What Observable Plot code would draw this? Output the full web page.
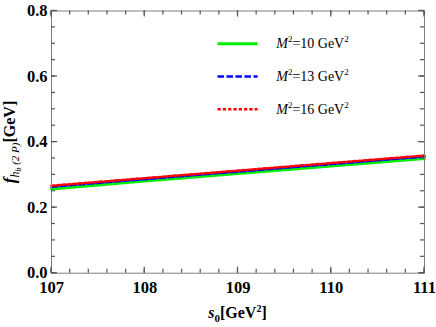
<!DOCTYPE html>
<html><head><meta charset="utf-8">
<script src="https://cdn.jsdelivr.net/npm/d3@7"></script>
<script src="https://cdn.jsdelivr.net/npm/@observablehq/plot@0.6"></script>
<style>body{margin:0;background:#fff}#chart{width:436px;height:327px}</style>
</head><body><div id="chart"></div>
<script>
// data
const s0 = [107, 108, 109, 110, 111];
const fM10 = [0.257, 0.281, 0.304, 0.327, 0.350];
const fM13 = [0.264, 0.287, 0.310, 0.333, 0.356];
const fM16 = [0.267, 0.290, 0.313, 0.336, 0.359];
const seriesNames = ["10", "13", "16"];
const xTicks = [107, 108, 109, 110, 111];
const yTicks = [0, 0.2, 0.4, 0.6, 0.8];
const xMinor = d3.range(107, 111.0001, 0.2);
const yMinor = d3.range(0, 0.80001, 0.05);
// legend placement (data coords)
const legendY = [0.7, 0.6, 0.5];
const legendX1 = 108.78, legendX2 = 109.21, legendTextX = 109.41;

const W = 436, H = 327, ML = 51, MR = 12, MT = 10.5, MB = 54.3;
const X0 = 107, X1 = 111, Y0 = 0, Y1 = 0.8;
const FONT = "'Liberation Serif', 'Times New Roman', serif";

const colors = ["#00ee00", "#0000ff", "#ff0000"];
const dashes = [null, "6.5,2.5", "3.3,2"];
const widths = [3, 2.5, 2.5];
const values = [fM10, fM13, fM16];

const lineMarks = values.map((v, i) =>
  Plot.line(s0.map((x, j) => ({x, y: v[j]})), {x: "x", y: "y", stroke: colors[i], strokeWidth: widths[i], strokeDasharray: dashes[i]})
);
const legendMarks = seriesNames.map((n, i) =>
  Plot.link([{y: legendY[i]}], {x1: legendX1, x2: legendX2, y1: "y", y2: "y", stroke: colors[i], strokeWidth: widths[i], strokeDasharray: dashes[i]})
);
const legendText = Plot.text(seriesNames.map((n, i) => ({n, y: legendY[i]})),
  {x: legendTextX, y: "y", text: "n", textAnchor: "start", fontSize: 14, fontWeight: "normal", fontFamily: FONT, fill: "#000", className: "lgtext"});

const frameStroke = "#808080";
const tickStroke = "#555";

const plot = Plot.plot({
  width: W, height: H,
  marginLeft: ML, marginRight: MR, marginTop: MT, marginBottom: MB,
  style: {fontFamily: FONT, fontSize: "16px", fontWeight: "bold", color: "#000", background: "#fff"},
  x: {domain: [X0, X1]},
  y: {domain: [Y0, Y1]},
  marks: [
    Plot.axisX(xTicks, {anchor: "bottom", tickSize: 0, tickPadding: 8, tickFormat: d => String(d), label: null, fontSize: 16.5, fontWeight: "bold", fontFamily: FONT, fill: "#000"}),
    Plot.axisY(yTicks, {anchor: "left", tickSize: 0, tickPadding: 4, tickFormat: d => d.toFixed(1), label: null, fontSize: 16.5, fontWeight: "bold", fontFamily: FONT, fill: "#000"}),
    ...lineMarks,
    ...legendMarks,
    legendText,
    Plot.frame({stroke: frameStroke})
  ]
});
document.getElementById("chart").appendChild(plot);
const svg = d3.select(plot);
const sx = plot.scale("x"), sy = plot.scale("y");
const px = v => sx.apply(v), py = v => sy.apply(v);
const tg = svg.append("g").attr("stroke", tickStroke).attr("stroke-width", 1.2).attr("fill", "none");
function tickLines(xs, ys, len) {
  const yb = py(Y0), yt = py(Y1), xl = px(X0), xr = px(X1);
  xs.forEach(v => {
    tg.append("line").attr("x1", px(v)).attr("x2", px(v)).attr("y1", yb).attr("y2", yb - len);
    tg.append("line").attr("x1", px(v)).attr("x2", px(v)).attr("y1", yt).attr("y2", yt + len);
  });
  ys.forEach(v => {
    tg.append("line").attr("y1", py(v)).attr("y2", py(v)).attr("x1", xl).attr("x2", xl + len);
    tg.append("line").attr("y1", py(v)).attr("y2", py(v)).attr("x1", xr).attr("x2", xr - len);
  });
}
tickLines(xMinor, yMinor, 4);
tickLines(xTicks, yTicks, 6);

svg.selectAll(".lgtext text").each(function() {
  const n = this.textContent;
  const t = d3.select(this);
  t.text(null);
  t.append("tspan").attr("font-style", "italic").text("M");
  t.append("tspan").attr("font-size", 9).attr("dy", -6).text("2");
  t.append("tspan").attr("dy", 6).text("=" + n + " GeV");
  t.append("tspan").attr("font-size", 9).attr("dy", -6).text("2");
});
// y label
const yl = svg.append("text").attr("transform", "translate(15,142) rotate(-90)")
  .attr("text-anchor", "middle").attr("font-family", FONT).attr("fill", "#000");
yl.append("tspan").attr("font-size", 17).attr("font-weight", "bold").attr("font-style", "italic").text("f");
yl.append("tspan").attr("font-size", 12).attr("font-style", "italic").attr("font-weight", "normal").attr("dy", 4).text("h");
yl.append("tspan").attr("font-size", 8).attr("font-style", "italic").attr("font-weight", "normal").attr("dy", 2).text("b");
yl.append("tspan").attr("font-size", 11).attr("font-style", "italic").attr("font-weight", "normal").attr("dy", -2).text(" (2 P)");
yl.append("tspan").attr("font-size", 16).attr("font-weight", "bold").attr("dy", -4).text("[GeV]");
// x label
const xl = svg.append("text").attr("x", 237.5).attr("y", 318)
  .attr("text-anchor", "middle").attr("font-family", FONT).attr("fill", "#000").attr("font-weight", "bold");
xl.append("tspan").attr("font-size", 16).attr("font-style", "italic").text("s");
xl.append("tspan").attr("font-size", 11).attr("dy", 4).text("0");
xl.append("tspan").attr("font-size", 16).attr("dy", -4).text("[GeV");
xl.append("tspan").attr("font-size", 10).attr("dy", -6).text("2");
xl.append("tspan").attr("font-size", 16).attr("dy", 6).text("]");
</script>
</body></html>
